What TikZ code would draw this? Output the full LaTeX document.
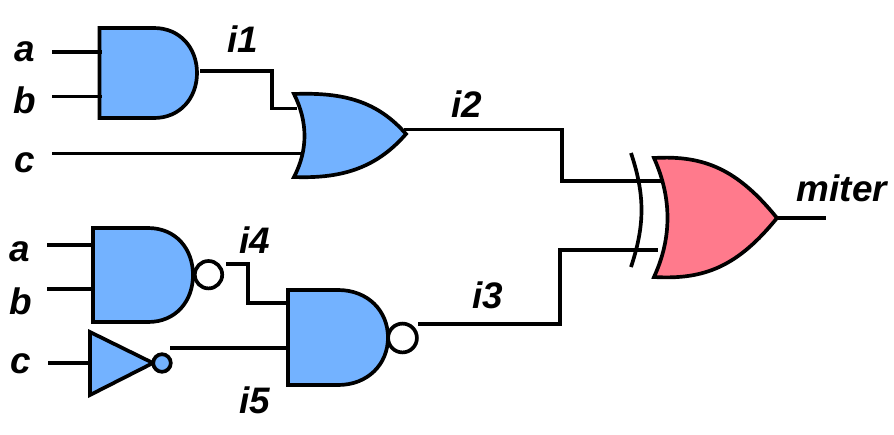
\documentclass[tikz,border=0pt]{standalone}
\usepackage{fontspec}
\setmainfont{Liberation Sans}
\usepackage{tikz}
\definecolor{gateblue}{RGB}{115,178,255}
\definecolor{gatered}{RGB}{255,122,140}
\tikzset{wire/.style={line width=2.1pt, line join=miter, black},
gate/.style={line width=2.1pt, line join=miter, draw=black, fill=#1},
gate/.default={gateblue},
lbl/.style={font=\fontsize{21}{24}\selectfont\bfseries\itshape, inner sep=0pt, black},
bubble/.style={circle, draw=black, line width=2.1pt, fill=#1, minimum size=15.6pt, inner sep=0pt},
bubble/.default={white}}

\begin{document}
\begin{tikzpicture}[x=0.02cm, y=-0.02cm]
\useasboundingbox (0,0) rectangle (894,434);
% top and gate
\coordinate (inA) at (52,52);
    \coordinate (inB) at (52,96.5);
    \coordinate (pinA) at (102,52);
    \coordinate (pinB) at (102,96.5);
\coordinate (outI1) at (200,71);
    \coordinate (kneeA) at (272,71);
    \coordinate (kneeB) at (272,108.5);
    \coordinate (pinI1) at (297,108.5);
\coordinate (inC) at (52,153.5);
    \coordinate (pinC) at (303,153.5);
\draw[gate] (99.5,28) -- (154,28) .. controls (180,28) and (197,48) .. (197,73) .. controls (197,98) and (180,118) .. (154,118) -- (99.5,118) -- cycle;
\draw[wire] (inA) -- (pinA);
\draw[wire] (inB) -- (pinB);
\draw[wire] (outI1) -- (kneeA) -- (kneeB) -- (pinI1);
\draw[wire] (inC) -- (pinC);
% or gate
\coordinate (outI2) at (404,129.5);
    \coordinate (kneeC) at (562,129.5);
    \coordinate (kneeD) at (562,181);
    \coordinate (pinI2) at (665,181);
\draw[gate] (294,94) .. controls (345,92) and (378,102) .. (406,134) .. controls (378,166) and (345,179) .. (294,177) .. controls (308,150) and (308,122) .. (294,94) -- cycle;
\draw[wire] (outI2) -- (kneeC) -- (kneeD) -- (pinI2);
% lower nand gates
\coordinate (in2A) at (47,245);
    \coordinate (in2B) at (47,289);
    \coordinate (pin2A) at (93,245);
    \coordinate (pin2B) at (93,289);
\coordinate (outI4) at (226,264);
    \coordinate (kneeE) at (248,264);
    \coordinate (kneeF) at (248,303);
    \coordinate (pinI4) at (288,303);
\coordinate (in2C) at (48,363);
    \coordinate (pin2C) at (90,363);
\coordinate (outI5) at (170,348);
    \coordinate (pinI5) at (288,348);
\coordinate (outI3) at (418,324);
    \coordinate (kneeG) at (560,324);
    \coordinate (kneeH) at (560,250);
    \coordinate (pinI3) at (658,250);
\draw[wire] (in2A) -- (pin2A);
\draw[wire] (in2B) -- (pin2B);
\draw[wire] (in2C) -- (pin2C);
\draw[gate] (93,228) -- (148,228) .. controls (176,228) and (193,249) .. (193,275) .. controls (193,301) and (176,322) .. (148,322) -- (93,322) -- cycle;
\node[bubble] (bubN1) at (208.5,274.7) {};
\draw[gate] (288,290) -- (338,290) .. controls (368,290) and (388,311) .. (388,337.5) .. controls (388,364) and (368,385) .. (338,385) -- (288,385) -- cycle;
\node[bubble, minimum size=16.4pt] (bubN2) at (402.5,338) {};
\draw[gate] (90,332) -- (153,363) -- (90,395) -- cycle;
\node[bubble=gateblue, minimum size=10pt] (bubInv) at (162,363) {};
\draw[wire] (outI4) -- (kneeE) -- (kneeF) -- (pinI4);
\draw[wire] (outI5) -- (pinI5);
\draw[wire] (outI3) -- (kneeG) -- (kneeH) -- (pinI3);
% xor gate
\coordinate (outM) at (777,218);
    \coordinate (endM) at (826,218);
\draw[gate=gatered] (654,158) .. controls (705,155) and (738,170) .. (777,218) .. controls (738,266) and (705,280) .. (654,277) .. controls (672,238) and (672,198) .. (654,158) -- cycle;
\draw[wire] (631,153) .. controls (645,195) and (645,225) .. (631,267);
\draw[wire] (outM) -- (endM);
% labels
\node[lbl] (la1) at (25,52) {a};
\node[lbl] (lb1) at (25,100) {b};
\node[lbl] (lc1) at (25,163) {c};
\node[lbl] (li1) at (243,39) {i1};
\node[lbl] (li2) at (467,104) {i2};
\node[lbl] (lmiter) at (842,188) {miter};
\node[lbl] (la2) at (20,252) {a};
\node[lbl] (lb2) at (21,301) {b};
\node[lbl] (lc2) at (21,364) {c};
\node[lbl] (li4) at (255,240) {i4};
\node[lbl] (li5) at (255,400) {i5};
\node[lbl] (li3) at (488,295) {i3};
\end{tikzpicture}
\end{document}
